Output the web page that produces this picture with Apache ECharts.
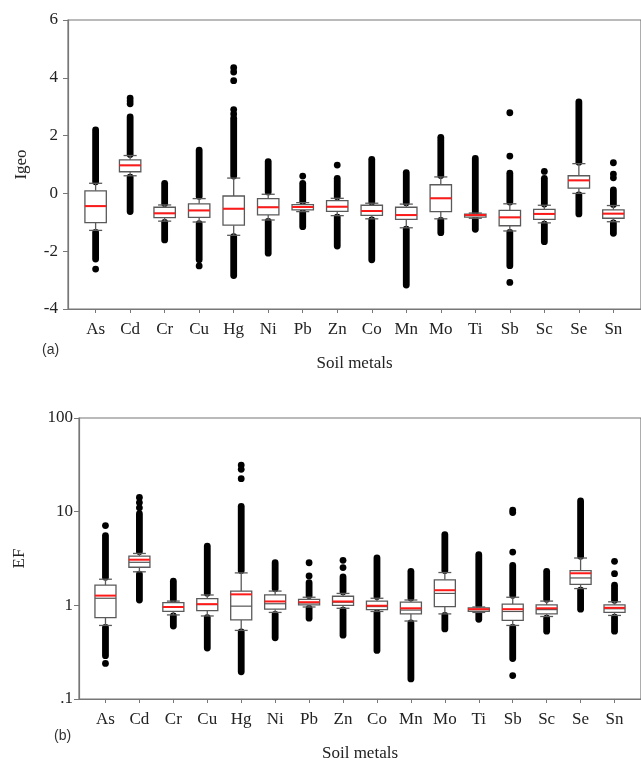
<!DOCTYPE html>
<html><head><meta charset="utf-8">
<script src="https://cdn.jsdelivr.net/npm/echarts@6/dist/echarts.min.js"></script>
<style>html,body{margin:0;padding:0;background:#fff}#c{width:641px;height:763px}</style>
</head><body><div id="c"></div>
<script>
const categories = ['As','Cd','Cr','Cu','Hg','Ni','Pb','Zn','Co','Mn','Mo','Ti','Sb','Sc','Se','Sn'];

// Igeo: [lower whisker, Q1, median, Q3, upper whisker]
const igeoBox = [
  [-1.28,-1.01,-0.44,0.09,0.35],[0.61,0.75,0.97,1.16,1.31],[-0.96,-0.84,-0.69,-0.48,-0.40],
  [-0.99,-0.83,-0.59,-0.36,-0.18],[-1.45,-1.10,-0.53,-0.09,0.53],[-0.92,-0.74,-0.48,-0.18,-0.03],
  [-0.63,-0.57,-0.47,-0.39,-0.32],[-0.77,-0.62,-0.46,-0.25,-0.17],[-0.88,-0.76,-0.61,-0.41,-0.34],
  [-1.19,-0.90,-0.75,-0.48,-0.37],[-0.88,-0.63,-0.17,0.30,0.57],[-0.86,-0.82,-0.76,-0.72,-0.68],
  [-1.30,-1.12,-0.83,-0.59,-0.36],[-1.02,-0.90,-0.71,-0.55,-0.41],[0.00,0.18,0.45,0.61,1.03],
  [-0.98,-0.86,-0.70,-0.57,-0.42]
];
const igeoMean = [-0.44,0.97,-0.69,-0.59,-0.53,-0.48,-0.47,-0.46,-0.61,-0.75,-0.17,-0.75,-0.83,-0.71,0.45,-0.70];
// dense runs of outliers: [from, to]
const igeoUpper = [[0.4,2.2],[1.35,2.65],[-0.35,0.35],[-0.1,1.5],[0.6,2.6],[0.05,1.1],[-0.28,0.35],[-0.12,0.52],
  [-0.3,1.18],[-0.32,0.72],[0.62,1.94],[-0.65,1.21],[-0.3,0.70],[-0.37,0.52],[1.08,3.17],[-0.38,0.12]];
const igeoLower = [[-1.35,-2.27],[0.56,-0.63],[-1.0,-1.61],[-1.05,-2.30],[-1.5,-2.84],[-0.97,-2.07],[-0.67,-1.15],[-0.82,-1.82],
  [-0.92,-2.30],[-1.24,-3.17],[-0.93,-1.36],[-0.9,-1.24],[-1.35,-2.5],[-1.06,-1.67],[-0.05,-0.71],[-1.02,-1.38]];
// isolated outliers
const igeoDots = [[-2.62],[3.1,3.2,3.3],[],[-2.51],[2.75,2.9,3.9,4.2,4.35],[],[0.6],[0.98],[],[],[],[],[1.29,2.79,-3.08],[0.76],[],[0.54,0.67,1.06]];

// EF
const efBox = [
  [0.61,0.74,1.19,1.64,1.90],[2.28,2.55,2.88,3.36,3.58],[0.79,0.86,0.95,1.07,1.11],
  [0.77,0.88,1.02,1.18,1.29],[0.54,0.70,0.98,1.42,2.22],[0.84,0.91,1.04,1.29,1.42],
  [0.96,1.01,1.06,1.16,1.22],[0.93,1.00,1.08,1.25,1.34],[0.86,0.90,0.97,1.11,1.19],
  [0.68,0.81,0.89,1.08,1.14],[0.81,0.97,1.34,1.87,2.24],[0.84,0.86,0.90,0.94,0.96],
  [0.61,0.69,0.86,1.03,1.22],[0.76,0.81,0.90,1.01,1.11],[1.51,1.67,1.96,2.35,3.20],
  [0.78,0.84,0.92,1.01,1.09]
];
const efMean = [1.27,3.07,0.96,1.03,1.31,1.10,1.08,1.10,0.99,0.93,1.45,0.91,0.91,0.93,2.20,0.94];
const efUpper = [[2.0,5.56],[3.75,9.5],[1.15,1.81],[1.35,4.29],[2.35,11.4],[1.5,2.85],[1.27,1.75],[1.4,2.01],
  [1.24,3.2],[1.2,2.31],[2.35,5.69],[1.0,3.47],[1.28,2.67],[1.16,2.31],[3.35,13.0],[1.13,1.64]];
const efLower = [[0.58,0.29],[2.15,1.14],[0.77,0.60],[0.74,0.35],[0.52,0.195],[0.80,0.45],[0.93,0.73],[0.89,0.48],
  [0.83,0.33],[0.65,0.164],[0.78,0.56],[0.82,0.71],[0.58,0.27],[0.73,0.53],[1.45,0.91],[0.75,0.53]];
const efDots = [[7.1,0.24],[11,12.5,14.2],[],[],[22.5,28.3,31.4],[],[2.06,2.85],[2.53,3.02],[],[],[],[],[3.7,9.8,10.4,0.178],[],[],[2.18,2.95]];

const positions = categories.map((c,i)=>i+1);

function boxData(box, mean){ return box.map((b,i)=>[positions[i]].concat(b,[mean[i]])); }
function rangeData(r){ return r.map((d,i)=>[positions[i],d[0],d[1]]); }
function dotData(dots){ const out=[]; dots.forEach((arr,i)=>arr.forEach(v=>out.push([positions[i],v]))); return out; }

const BOXW=0.62, CAPW=0.38;
const GRAY='#5a5a5a';
function renderBox(params, api){
  const x=api.value(0);
  const p=k=>api.coord([x,api.value(k)]);
  const lo=p(1), q1=p(2), md=p(3), q3=p(4), hi=p(5), mn=p(6);
  const cx=lo[0];
  const w=api.coord([x+BOXW/2,api.value(3)])[0]-api.coord([x-BOXW/2,api.value(3)])[0];
  const cw=api.coord([x+CAPW/2,api.value(3)])[0]-api.coord([x-CAPW/2,api.value(3)])[0];
  const st={stroke:GRAY,lineWidth:1.3,fill:null};
  return {type:'group',children:[
    {type:'line',shape:{x1:cx,y1:q3[1],x2:cx,y2:hi[1]},style:st},
    {type:'line',shape:{x1:cx-cw/2,y1:hi[1],x2:cx+cw/2,y2:hi[1]},style:st},
    {type:'line',shape:{x1:cx,y1:q1[1],x2:cx,y2:lo[1]},style:st},
    {type:'line',shape:{x1:cx-cw/2,y1:lo[1],x2:cx+cw/2,y2:lo[1]},style:st},
    {type:'rect',shape:{x:cx-w/2,y:q3[1],width:w,height:q1[1]-q3[1]},style:{fill:'#fff',stroke:GRAY,lineWidth:1.3}},
    {type:'line',shape:{x1:cx-w/2,y1:md[1],x2:cx+w/2,y2:md[1]},style:{stroke:'#555',lineWidth:1.2}},
    {type:'line',shape:{x1:cx-w/2,y1:mn[1],x2:cx+w/2,y2:mn[1]},style:{stroke:'#ff1a1a',lineWidth:2}}
  ]};
}
function renderRange(params, api){
  const x=api.value(0);
  const a=api.coord([x,api.value(1)]), b=api.coord([x,api.value(2)]);
  return {type:'line',shape:{x1:a[0],y1:a[1],x2:b[0],y2:b[1]},style:{stroke:'#000',lineWidth:6.8,lineCap:'round'}};
}

const FONT='Liberation Serif';
const TXT='#222';
const AX='#777';
function xAxisCfg(gi){
  return {gridIndex:gi,type:'value',min:gi===0?0.2:0.22,max:gi===0?16.8:16.78,
    axisLine:{show:true,onZero:false,lineStyle:{color:AX,width:1.2}},splitLine:{show:false},
    axisTick:{show:true,customValues:positions,length:4,lineStyle:{color:AX}},
    axisLabel:{customValues:positions,formatter:v=>categories[Math.round(v)-1]||'',fontFamily:FONT,fontSize:17,color:TXT,margin:12},
    name:'Soil metals',nameLocation:'middle',nameGap:46,nameTextStyle:{fontFamily:FONT,fontSize:17,color:TXT}};
}

const chart=echarts.init(document.getElementById('c'),null,{renderer:'canvas'});
chart.setOption({
  animation:false,
  backgroundColor:'#fff',
  grid:[
    {left:68,top:20,width:580,height:289,show:true,borderColor:AX,borderWidth:1.2,backgroundColor:'transparent'},
    {left:79,top:418,width:568,height:284,show:true,borderColor:AX,borderWidth:1.2,backgroundColor:'transparent'}
  ],
  xAxis:[xAxisCfg(0),xAxisCfg(1)],
  yAxis:[
    {gridIndex:0,type:'value',min:-4,max:6,interval:2,
     axisLine:{show:true,onZero:false,lineStyle:{color:AX,width:1.2}},splitLine:{show:false},
     axisTick:{show:true,length:5,lineStyle:{color:AX}},
     axisLabel:{fontFamily:FONT,fontSize:17,color:TXT,margin:10},
     name:'Igeo',nameLocation:'middle',nameGap:38,nameTextStyle:{fontFamily:FONT,fontSize:17,color:TXT}},
    {gridIndex:1,type:'log',logBase:10,min:0.1,max:100,
     axisLine:{show:true,onZero:false,lineStyle:{color:AX,width:1.2}},splitLine:{show:false},minorTick:{show:false},
     axisTick:{show:true,length:5,lineStyle:{color:AX}},
     axisLabel:{fontFamily:FONT,fontSize:17,color:TXT,margin:6,formatter:v=>v<0.5?'.1':String(Math.round(v))},
     name:'EF',nameLocation:'middle',nameGap:51,nameTextStyle:{fontFamily:FONT,fontSize:17,color:TXT}}
  ],
  graphic:[
    {type:'text',left:42,top:343,style:{text:'(a)',font:'14px "Liberation Sans"',fill:'#333'}},
    {type:'text',left:54,top:729,style:{text:'(b)',font:'14px "Liberation Sans"',fill:'#333'}}
  ],
  series:[
    {type:'custom',xAxisIndex:0,yAxisIndex:0,renderItem:renderRange,data:rangeData(igeoUpper),z:2,silent:true},
    {type:'custom',xAxisIndex:0,yAxisIndex:0,renderItem:renderRange,data:rangeData(igeoLower),z:2,silent:true},
    {type:'scatter',xAxisIndex:0,yAxisIndex:0,data:dotData(igeoDots),symbolSize:6.8,itemStyle:{color:'#000',opacity:1},z:2,silent:true},
    {type:'custom',xAxisIndex:0,yAxisIndex:0,renderItem:renderBox,data:boxData(igeoBox,igeoMean),z:3,silent:true},
    {type:'custom',xAxisIndex:1,yAxisIndex:1,renderItem:renderRange,data:rangeData(efUpper),z:2,silent:true},
    {type:'custom',xAxisIndex:1,yAxisIndex:1,renderItem:renderRange,data:rangeData(efLower),z:2,silent:true},
    {type:'scatter',xAxisIndex:1,yAxisIndex:1,data:dotData(efDots),symbolSize:6.8,itemStyle:{color:'#000',opacity:1},z:2,silent:true},
    {type:'custom',xAxisIndex:1,yAxisIndex:1,renderItem:renderBox,data:boxData(efBox,efMean),z:3,silent:true}
  ]
});
</script></body></html>
